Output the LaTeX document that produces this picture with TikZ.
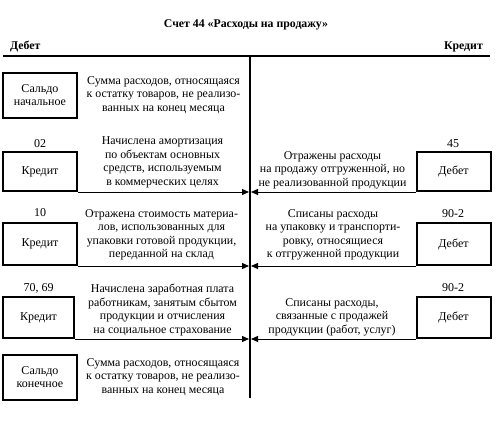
\documentclass[tikz,border=0pt]{standalone}
\usepackage{fontspec}
\setmainfont{Liberation Serif}
\usetikzlibrary{arrows.meta,positioning}
\tikzset{
  acc/.style={draw=black, line width=2pt, minimum width=74pt, inner sep=0pt, align=center, font=\fontsize{12}{13}\selectfont},
  note/.style={align=center, inner sep=0pt, font=\fontsize{11.9}{13.5}\selectfont},
  num/.style={inner sep=0pt, font=\fontsize{12}{13}\selectfont},
  hdr/.style={inner sep=0pt, font=\bfseries\fontsize{11.8}{13}\selectfont},
  axis/.style={draw=black, line width=2pt},
  post/.style={draw=black, line width=1pt, -{Triangle[length=7pt,width=6pt]}},
}

\begin{document}
\begin{tikzpicture}[x=1pt,y=-1pt]
\useasboundingbox (0,0) rectangle (500,420);
% title and T-account
\node[hdr] (title) at (246,25) {Счет 44 «Расходы на продажу»};
\node[hdr, anchor=west] (deb) at (10,47) {Дебет};
\node[hdr, anchor=east] (kred) at (483,47) {Кредит};
\coordinate (hl) at (3,56);
\coordinate (hr) at (490,56);
\coordinate (vt) at (250,56);
\coordinate (vb) at (250,398);
\draw[axis] (hl) -- (hr);
\draw[axis] (vt) -- (vb);

% opening balance
\node[acc, minimum height=45pt] (sn) at (40,95.5) {Сальдо\\начальное};
\node[note] (sntxt) at (163.5,95) {Сумма расходов, относящаяся\\к остатку товаров, не реализо-\\ванных на конец месяца};

% 02 / 45
\node[num] (c02) at (40,144) {02};
\node[acc, minimum height=39pt] (k02) at (40,171.5) {Кредит};
\node[note] (t02) at (162.5,162.5) {Начислена амортизация\\по объектам основных\\средств, используемым\\в коммерческих целях};
\draw[post] (k02.south east) -- ([xshift=-1pt]k02.south east -| vt);
\node[num] (c45) at (453,144) {45};
\node[acc, minimum height=39pt] (d45) at (453.5,171.5) {Дебет};
\node[note] (t45) at (332.5,170) {Отражены расходы\\на продажу отгруженной, но\\не реализованной продукции};
\draw[post] (d45.south west) -- ([xshift=1pt]d45.south west -| vt);

% 10 / 90-2
\node[num] (c10) at (40,213) {10};
\node[acc, minimum height=42pt] (k10) at (40,244) {Кредит};
\node[note] (t10) at (161.5,235) {Отражена стоимость материа-\\лов, использованных для\\упаковки готовой продукции,\\переданной  на склад};
\draw[post] (k10.south east) -- ([xshift=-1pt]k10.south east -| vt);
\node[num] (c902a) at (453,214) {90-2};
\node[acc, minimum height=42pt] (d902a) at (453.5,244) {Дебет};
\node[note] (t902a) at (333,235) {Списаны расходы\\на упаковку и транспорти-\\ровку, относящиеся\\к отгруженной продукции};
\draw[post] (d902a.south west) -- ([xshift=1pt]d902a.south west -| vt);

% 70, 69 / 90-2
\node[num] (c7069) at (38.5,288) {70, 69};
\node[acc, minimum width=71pt, minimum height=41pt] (k7069) at (38.5,317.5) {Кредит};
\node[note] (t7069) at (162.5,310) {Начислена заработная плата\\работникам, занятым сбытом\\продукции и отчисления\\на социальное страхование};
\draw[post] (k7069.south east) -- ([xshift=-1pt]k7069.south east -| vt);
\node[num] (c902b) at (453,288) {90-2};
\node[acc, minimum height=41pt] (d902b) at (453.5,317.5) {Дебет};
\node[note] (t902b) at (332,317) {Списаны расходы,\\связанные с продажей\\продукции (работ, услуг)};
\draw[post] (d902b.south west) -- ([xshift=1pt]d902b.south west -| vt);

% closing balance
\node[acc, minimum height=45pt] (sk) at (40,377.5) {Сальдо\\конечное};
\node[note] (sktxt) at (163,377) {Сумма расходов, относящаяся\\к остатку товаров, не реализо-\\ванных на конец месяца};
\end{tikzpicture}
\end{document}
